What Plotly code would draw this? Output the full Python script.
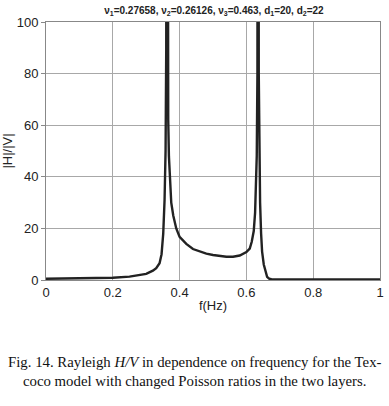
import plotly.graph_objects as go

freq = [0, 0.05, 0.1, 0.15, 0.2, 0.25, 0.28, 0.30, 0.32, 0.33, 0.34, 0.346, 0.351, 0.355,
        0.358, 0.360, 0.362, 0.364, 0.366, 0.368, 0.371, 0.375, 0.381, 0.39, 0.40, 0.42,
        0.44, 0.46, 0.48, 0.50, 0.52, 0.54, 0.56, 0.58, 0.60, 0.61, 0.616, 0.622, 0.626,
        0.629, 0.631, 0.633, 0.635, 0.637, 0.639, 0.641, 0.644, 0.647, 0.652, 0.657,
        0.662, 0.668, 0.675, 0.69, 0.75, 0.85, 1.0]
hv = [0.5, 0.55, 0.6, 0.7, 0.9, 1.3, 1.8, 2.4, 3.6, 4.6, 6.5, 10, 18, 31,
      50, 90, 400, 90, 62, 48, 38, 30, 25, 20, 16.7, 14,
      12, 11, 10.2, 9.7, 9.3, 9.0, 9.0, 9.5, 10.8, 12.2, 14.8, 19, 26,
      36, 48, 80, 400, 80, 50, 30, 18, 11, 6, 3,
      1.2, 0.5, 0.3, 0.25, 0.2, 0.2, 0.2]

x_ticks = [0, 0.2, 0.4, 0.6, 0.8, 1]
x_tick_labels = ["0", "0.2", "0.4", "0.6", "0.8", "1"]
y_ticks = [0, 20, 40, 60, 80, 100]

title_text = ("<b>ν<sub>1</sub>=0.27658, ν<sub>2</sub>=0.26126, ν<sub>3</sub>=0.463, "
              "d<sub>1</sub>=20, d<sub>2</sub>=22</b>")
caption = ("Fig. 14. Rayleigh <i>H/V</i> in dependence on frequency for the Tex-<br>"
           "coco model with changed Poisson ratios in the two layers.")

fig = go.Figure()
fig.add_trace(go.Scatter(x=freq, y=hv, mode="lines",
                         line=dict(color="#222222", width=2.4), cliponaxis=True,
                         showlegend=False))

fig.update_layout(
    width=389, height=406,
    margin=dict(l=46, r=9, t=22, b=126, autoexpand=False),
    paper_bgcolor="white", plot_bgcolor="white",
    font=dict(family="Liberation Sans, Arial", size=13, color="#222222"),
    title=dict(text=title_text, x=0.55, xanchor="center", y=0.975, yanchor="middle",
               font=dict(size=10, color="#222222")),
)
fig.update_xaxes(range=[0, 1], tickvals=x_ticks, ticktext=x_tick_labels,
                 showgrid=True, gridcolor="#a8a8a8", gridwidth=1,
                 showline=True, linecolor="#888888", linewidth=1, mirror=True,
                 zeroline=False, ticks="", ticklen=0, automargin=False,
                 title=dict(text="f(Hz)", standoff=2, font=dict(size=13)))
fig.update_yaxes(range=[0, 100], tickvals=y_ticks,
                 showgrid=True, gridcolor="#a8a8a8", gridwidth=1,
                 showline=True, linecolor="#888888", linewidth=1, mirror=True,
                 zeroline=False, ticks="outside", ticklen=4, tickcolor="#888888",
                 automargin=False,
                 title=dict(text="|H|/|V|", standoff=4, font=dict(size=13)))

fig.add_annotation(text=caption, xref="paper", yref="paper", x=0.445, y=-0.353,
                   xanchor="center", yanchor="middle", showarrow=False, align="center",
                   font=dict(family="Liberation Serif, Times New Roman", size=14.8,
                             color="#111111"))

fig.write_html("out.html", config={"displayModeBar": False},
               post_script="document.body.style.margin='0px';")
